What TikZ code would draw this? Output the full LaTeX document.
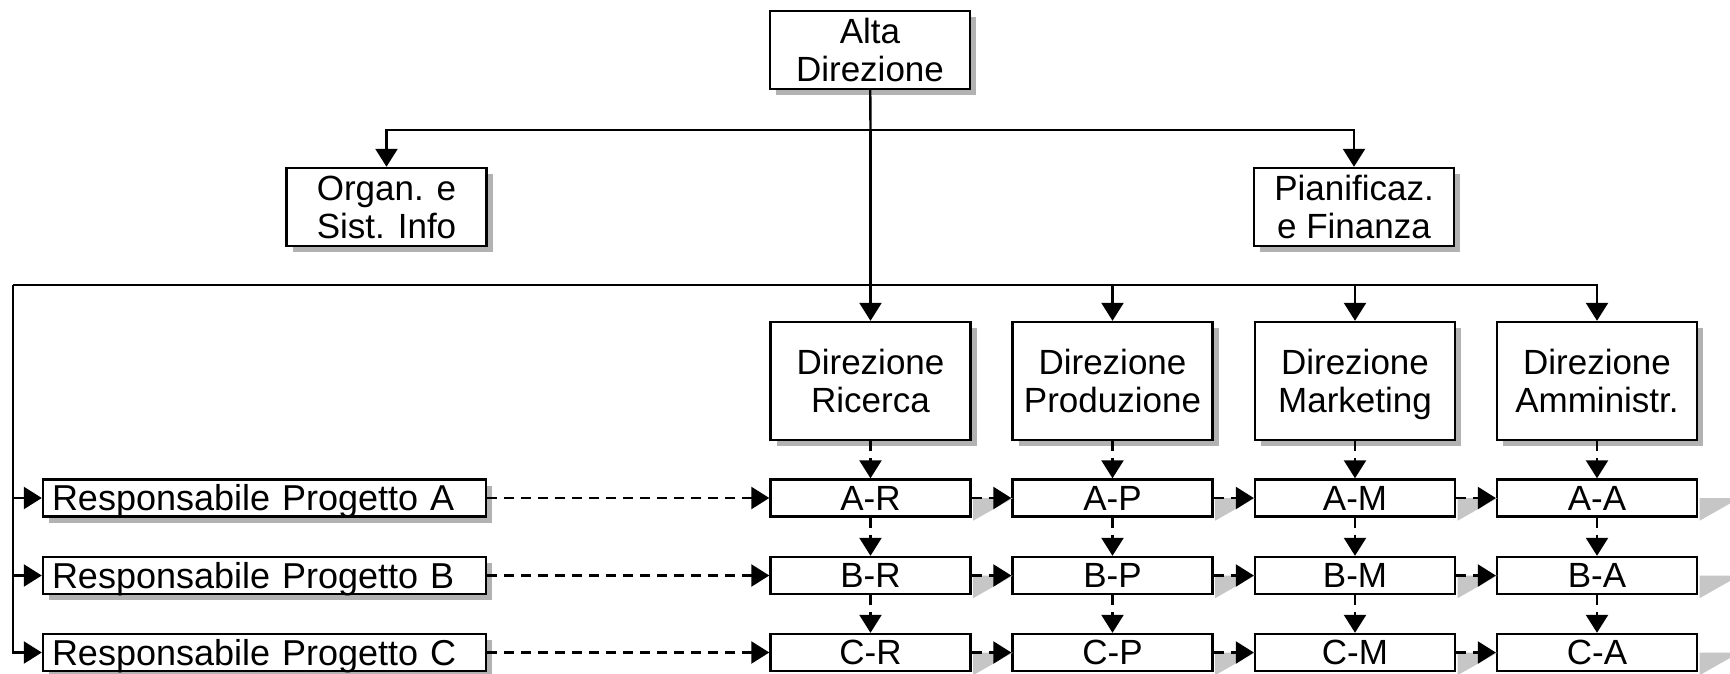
\documentclass[tikz,border=0pt]{standalone}
\usepackage{fontspec}
\setmainfont{Liberation Sans}
\usetikzlibrary{arrows.meta,shadows}
\newcommand\nodp[1]{\raisebox{0pt}[\height][0pt]{#1}}
\begin{document}
\begin{tikzpicture}[x=0.5pt,y=-0.5pt,
  txt/.style={font=\fontsize{17.5}{19}\selectfont},
  shbox/.style={draw, line width=1.2pt, fill=white, inner sep=0pt, align=center, txt,
    drop shadow={shadow xshift=3pt, shadow yshift=-3pt, fill=gray!60, opacity=1}},
  bigbox/.style={shbox, minimum width=100pt, minimum height=39pt},
  dirbox/.style={shbox, minimum width=100pt, minimum height=59pt},
  respbox/.style={shbox, text width=212.5pt, inner xsep=4.5pt, inner ysep=0pt, minimum height=18.5pt, align=left,
    font=\fontsize{18}{19}\selectfont, text height=15.5pt, text depth=2.8pt},
  cellbox/.style={draw, line width=1.2pt, fill=white, inner sep=0pt, txt, minimum width=100pt, minimum height=18.5pt,
    text height=15.4pt, text depth=3pt},
  conn/.style={line width=1.2pt, -{Triangle[width=11pt,length=9pt]}},
  dconn/.style={conn, dash pattern=on 5pt off 3.5pt},
  plain/.style={line width=1.2pt},
  wedge/.style={fill=gray!45}]
\useasboundingbox[fill=white] (0,0) rectangle (1730,674);

% top level
\node[bigbox] (alta) at (870,50) {Alta\\Direzione};
\node[bigbox] (org) at (386.5,207) {Organ. e\\Sist. Info};
\node[bigbox] (pian) at (1354,207) {Pianificaz.\\e Finanza};

% directions
\node[dirbox] (ric) at (870.5,381) {Direzione\\Ricerca};
\node[dirbox] (prod) at (1112.5,381) {Direzione\\Produzione};
\node[dirbox] (mark) at (1355,381) {Direzione\\\nodp{Marketing}};
\node[dirbox] (amm) at (1597,381) {Direzione\\Amministr.};

% project managers
\node[respbox] (rA) at (264.5,498) {Responsabile Progetto A};
\node[respbox] (rB) at (264.5,575.5) {Responsabile Progetto B};
\node[respbox] (rC) at (264.5,652.5) {Responsabile Progetto C};

% matrix cells
\node[cellbox] (cAR) at (870.5,498) {A-R};
\node[cellbox] (cAP) at (1112.5,498) {A-P};
\node[cellbox] (cAM) at (1355,498) {A-M};
\node[cellbox] (cAA) at (1597,498) {A-A};
\node[cellbox] (cBR) at (870.5,575.5) {B-R};
\node[cellbox] (cBP) at (1112.5,575.5) {B-P};
\node[cellbox] (cBM) at (1355,575.5) {B-M};
\node[cellbox] (cBA) at (1597,575.5) {B-A};
\node[cellbox] (cCR) at (870.5,652.5) {C-R};
\node[cellbox] (cCP) at (1112.5,652.5) {C-P};
\node[cellbox] (cCM) at (1355,652.5) {C-M};
\node[cellbox] (cCA) at (1597,652.5) {C-A};

% wedge shadows right of cells
\foreach \c in {cAR,cAP,cAM,cAA,cBR,cBP,cBM,cBA,cCR,cCP,cCM,cCA}{
  \fill[wedge] ([xshift=0.7pt]\c.east) -- ++(40,0) -- ([xshift=0.7pt,yshift=-1.5pt]\c.south east) -- cycle;
}

% coordinates of branch lines
\coordinate (t1) at (870.5,130);
\coordinate (t2) at (870.5,285);
\coordinate (lft) at (13,285);

% connectors
\draw[plain] (alta) -- (t1);
\draw[conn] (t1) -| (org);
\draw[conn] (t1) -| (pian);
\draw[conn] (t1) -- (ric);
\draw[conn] (t2) -| (prod);
\draw[conn] (t2) -| (mark);
\draw[conn] (t2) -| (amm);
\draw[plain] (t2) -- (lft);
\draw[conn] (lft) |- (rA);
\draw[conn] (lft) |- (rB);
\draw[conn] (lft) |- (rC);

% dashed horizontal
\draw[dconn] (rA) -- (cAR);
\draw[dconn] (rB) -- (cBR);
\draw[dconn] (rC) -- (cCR);
\foreach \r in {A,B,C}{
  \draw[dconn] (c\r R) -- (c\r P);
  \draw[dconn] (c\r P) -- (c\r M);
  \draw[dconn] (c\r M) -- (c\r A);
}
% dashed vertical
\foreach \col/\d in {R/ric,P/prod,M/mark,A/amm}{
  \draw[dconn] (\d) -- (cA\col);
  \draw[dconn] (cA\col) -- (cB\col);
  \draw[dconn] (cB\col) -- (cC\col);
}
\end{tikzpicture}
\end{document}
